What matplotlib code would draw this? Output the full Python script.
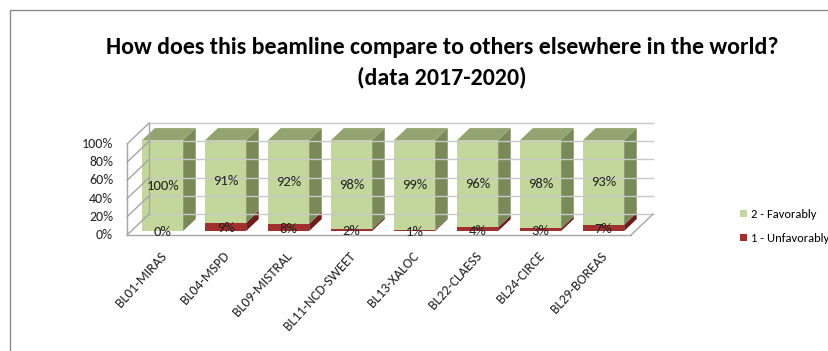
import matplotlib
matplotlib.use("Agg")
import matplotlib.pyplot as plt
from matplotlib.patches import Polygon, Patch, Rectangle

beamlines = ["BL01-MIRAS", "BL04-MSPD", "BL09-MISTRAL", "BL11-NCD-SWEET",
             "BL13-XALOC", "BL22-CLAESS", "BL24-CIRCE", "BL29-BOREAS"]
favorably = [100, 91, 92, 98, 99, 96, 98, 93]
unfavorably = [0, 9, 8, 2, 1, 4, 3, 7]
y_ticks = [0, 20, 40, 60, 80, 100]
series_names = ["2 - Favorably", "1 - Unfavorably"]
title_1 = "How does this beamline compare to others elsewhere in the world?"
title_2 = "(data 2017-2020)"

plt.rcParams["font.family"] = ["Carlito", "DejaVu Sans"]

W, H = 829, 351
# fake 3d: oblique offset per unit of depth (x in categories, y in %)
DX, DY = 0.35, 23.0
D0, D1 = 0.19, 0.76
BW = 0.65

green, green_top, green_side = "#C3D69B", "#93A470", "#798A58"
red, red_side = "#A0302D", "#6B1E1C"
grid_col, wall_col = "#C8C8C8", "#A6A6A6"
txt_col = "#222222"

fig = plt.figure(figsize=(W / 100, H / 100), dpi=100)

# place axes so that x=-0.5 -> 127 px, 63 px per category; y=0 -> 235 px, 0.91 px per %
xlim, ylim = (-0.6, 8.0), (-4, 126)
px_x, px_y = 63.0, 0.91
left = 127 + (xlim[0] + 0.5) * px_x
right = 127 + (xlim[1] + 0.5) * px_x
top = 235 - ylim[1] * px_y
bottom = 235 - ylim[0] * px_y
ax = fig.add_axes([left / W, 1 - bottom / H, (right - left) / W, (bottom - top) / H])
ax.set_xlim(xlim)
ax.set_ylim(ylim)
ax.axis("off")


def proj(x, y, d):
    return (x + d * DX, y + d * DY)


n = len(beamlines)
x0, x1 = -0.5, n - 0.5

# back wall gridlines + left wall
for t in y_ticks:
    ax.plot([x0 + DX, x1 + DX], [t + DY, t + DY], color=grid_col, lw=1, clip_on=False)
    ax.plot([x0, x0 + DX], [t, t + DY], color=wall_col, lw=1, clip_on=False)
ax.plot([x0, x0], [0, 100], color=wall_col, lw=1, clip_on=False)
ax.plot([x0 + DX, x0 + DX], [DY, 100 + DY], color=wall_col, lw=1, clip_on=False)
# floor
ax.plot([x0, x1], [0, 0], color=wall_col, lw=1, clip_on=False)
ax.plot([x1, x1 + DX], [0, DY], color=wall_col, lw=1, clip_on=False)

# 100% stacked
totals = [f + u for f, u in zip(favorably, unfavorably)]
h_red = [u / t * 100 for u, t in zip(unfavorably, totals)]
h_green = [f / t * 100 for f, t in zip(favorably, totals)]

for i in range(n):
    xr = i + BW / 2
    xl = i - BW / 2
    segs = [(0, h_red[i], red_side), (h_red[i], 100, green_side)]
    for b, t, side in segs:
        if t - b <= 0:
            continue
        ax.add_patch(Polygon([proj(xr, b, D0), proj(xr, b, D1), proj(xr, t, D1), proj(xr, t, D0)],
                             closed=True, facecolor=side, edgecolor="none", clip_on=False))
    ax.add_patch(Polygon([proj(xl, 100, D0), proj(xr, 100, D0), proj(xr, 100, D1), proj(xl, 100, D1)],
                         closed=True, facecolor=green_top, edgecolor="none", clip_on=False))

xs = [i + D0 * DX for i in range(n)]
ax.bar(xs, h_red, width=BW, bottom=D0 * DY, color=red, clip_on=False)
ax.bar(xs, h_green, width=BW, bottom=[h + D0 * DY for h in h_red], color=green, clip_on=False)

for i in range(n):
    ax.text(xs[i], D0 * DY + h_red[i] / 2 - 1.5, f"{unfavorably[i]}%", ha="center", va="center",
            fontsize=10.5, color=txt_col)
    ax.text(xs[i], D0 * DY + h_red[i] + h_green[i] / 2, f"{favorably[i]}%", ha="center",
            va="center", fontsize=10.5, color=txt_col)

for t in y_ticks:
    ax.text(x0 - 0.22, t, f"{t}%", ha="right", va="center", fontsize=10, color=txt_col)

for i, name in enumerate(beamlines):
    ax.text(i + 0.02, -16, name, rotation=48, rotation_mode="anchor", ha="right", va="top",
            fontsize=10, color=txt_col)

fig.text(442 / W, 1 - 47 / H, title_1, ha="center", va="center", fontsize=17.2,
         fontweight="bold", color="black")
fig.text(442 / W, 1 - 77 / H, title_2, ha="center", va="center", fontsize=17.2,
         fontweight="bold", color="black")

handles = [Patch(facecolor=green), Patch(facecolor=red)]
fig.legend(handles, series_names, loc="upper left", bbox_to_anchor=(735 / W, 1 - 204 / H),
           frameon=False, handlelength=0.55, handleheight=0.55, handletextpad=0.35,
           labelspacing=1.05, fontsize=9, borderaxespad=0)

fig.add_artist(Rectangle((10 / W, -0.1), 1.2, 1.1 - 10 / H, transform=fig.transFigure,
                         fill=False, edgecolor="#8C8C8C", lw=1))

fig.savefig("out.png", dpi=100)
